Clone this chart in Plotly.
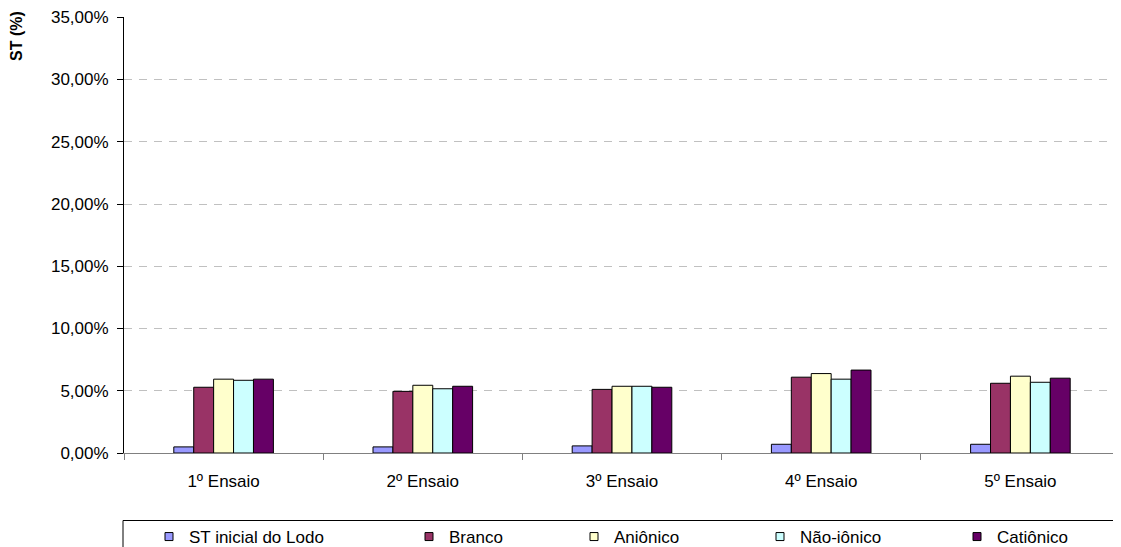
import plotly.graph_objects as go

categories = ["1º Ensaio", "2º Ensaio", "3º Ensaio", "4º Ensaio", "5º Ensaio"]
series_names = ["ST inicial do Lodo", "Branco", "Aniônico", "Não-iônico", "Catiônico"]
st_inicial = [0.0049, 0.0049, 0.0057, 0.0070, 0.0070]
branco = [0.0528, 0.0495, 0.0511, 0.0609, 0.0560]
anionico = [0.0593, 0.0544, 0.0536, 0.0638, 0.0617]
nao_ionico = [0.0584, 0.0516, 0.0536, 0.0593, 0.0568]
cationico = [0.0593, 0.0536, 0.0528, 0.0666, 0.0601]
colors = ["#9999FF", "#993366", "#FFFFCC", "#CCFFFF", "#660066"]
y_ticks = [0, 0.05, 0.10, 0.15, 0.20, 0.25, 0.30, 0.35]

values = [st_inicial, branco, anionico, nao_ionico, cationico]

# The page body has an 8px margin, so the figure is laid out 8px in from the top-left.
OFF = 8
W, H = 1121 - OFF, 547 - OFF
PLOT_LEFT, PLOT_RIGHT, PLOT_TOP, PLOT_BOTTOM = 124, 1120, 17, 453  # page pixels
L = PLOT_LEFT - OFF
R = W - (PLOT_RIGHT - OFF)
T = PLOT_TOP - OFF
B = H - (PLOT_BOTTOM - OFF)
pw = W - L - R
ph = H - T - B

def px_x(p):
    return (p - PLOT_LEFT) / pw

def px_y(p):
    return (PLOT_BOTTOM - p) / ph

FONT = "Liberation Sans, Arial, sans-serif"

fig = go.Figure()
for name, vals, col in zip(series_names, values, colors):
    fig.add_trace(go.Bar(
        x=categories, y=vals, name=name, showlegend=False,
        marker=dict(color=col, line=dict(color="#000000", width=1)),
        hoverinfo="x+y+name",
    ))

# legend entries (small square symbols), one legend per entry to match spacing
text_starts = [186, 446, 611, 797, 994]
legend_names = ["legend", "legend2", "legend3", "legend4", "legend5"]
for name, col, lg in zip(series_names, colors, legend_names):
    fig.add_trace(go.Scatter(
        x=[None], y=[None], mode="markers", name=name, legend=lg,
        marker=dict(symbol="square", size=8, color=col,
                    line=dict(color="#000000", width=1)),
        showlegend=True,
    ))

layout_legends = {}
for lg, ts in zip(legend_names, text_starts):
    layout_legends[lg] = dict(
        x=px_x(ts - 37), xanchor="left", xref="paper",
        y=px_y(537), yanchor="middle", yref="paper",
        bgcolor="rgba(0,0,0,0)", borderwidth=0,
        font=dict(family=FONT, size=17, color="#000000"),
        orientation="h",
    )

fig.update_layout(
    width=W, height=H,
    margin=dict(l=L, r=R, t=T, b=B, autoexpand=False),
    paper_bgcolor="#FFFFFF", plot_bgcolor="#FFFFFF",
    separators=",.",
    barmode="group", bargap=0.5, bargroupgap=0,
    font=dict(family=FONT, size=17, color="#000000"),
    **layout_legends,
    xaxis=dict(
        type="category", categoryorder="array", categoryarray=categories,
        showline=True, linecolor="#808080", linewidth=1,
        ticks="outside", ticklen=6, tickcolor="#808080", tickson="boundaries",
        showgrid=False, ticklabelstandoff=13,
        tickfont=dict(family=FONT, size=17, color="#000000"),
    ),
    yaxis=dict(
        range=[0, 0.3502], tickvals=y_ticks, tickformat=".2%",
        showline=True, linecolor="#000000", linewidth=1,
        ticks="outside", ticklen=6, tickcolor="#000000",
        showgrid=True, gridcolor="#C0C0C0", gridwidth=1, griddash="8px,7px",
        zeroline=False, ticklabelstandoff=5,
        tickfont=dict(family=FONT, size=17, color="#000000"),
    ),
    shapes=[dict(
        type="rect", xref="paper", yref="paper",
        x0=px_x(123), x1=px_x(1119), y0=px_y(520.5), y1=px_y(570),
        line=dict(color="#000000", width=1), fillcolor="rgba(0,0,0,0)",
    )],
    annotations=[dict(
        text="<b>ST (%)</b>", textangle=-90, showarrow=False,
        xref="paper", yref="paper", x=px_x(16), y=px_y(36),
        xanchor="center", yanchor="middle",
        font=dict(family=FONT, size=16, color="#000000"),
    )],
)

fig.write_html("out.html")
